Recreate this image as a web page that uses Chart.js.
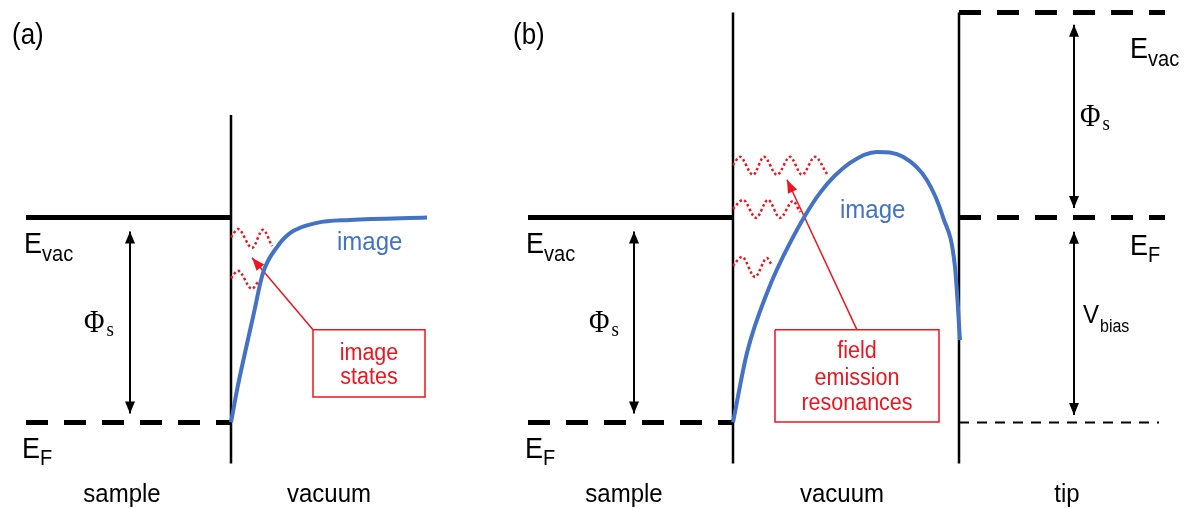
<!DOCTYPE html>
<html lang="en">
<head>
<meta charset="UTF-8">
<title>Image states and field emission resonances</title>
<script src="https://cdn.jsdelivr.net/npm/chart.js"></script>
<style>
  html, body { margin: 0; padding: 0; background: #fff; }
</style>
</head>
<body>
<canvas id="bandChart" width="1191" height="509"></canvas>

<script>
// x = position across the junction, y = energy relative to the sample Fermi level (Phi_s = 5)
const sampleEvac = 5, sampleEF = 0, tipEvac = 10, tipEF = 5, biasLevel = 0;

// walls between sample / vacuum / tip
const wallA   = [{x: 231, y: -1}, {x: 231, y: 7.5}];
const wallB   = [{x: 733, y: -1}, {x: 733, y: 10}];
const wallTip = [{x: 959, y: -1}, {x: 959, y: 10}];

// energy levels
const evacA   = [{x: 26, y: sampleEvac}, {x: 231, y: sampleEvac}];
const efA     = [{x: 26, y: sampleEF}, {x: 231, y: sampleEF}];
const evacB   = [{x: 528, y: sampleEvac}, {x: 733, y: sampleEvac}];
const efB     = [{x: 528, y: sampleEF}, {x: 733, y: sampleEF}];
const evacTip = [{x: 959, y: tipEvac}, {x: 1165, y: tipEvac}];
const efTip   = [{x: 959, y: tipEF}, {x: 1165, y: tipEF}];
const biasTip = [{x: 959, y: biasLevel}, {x: 1159, y: biasLevel}];

// image potential curves
const imageA = [
  {x: 231, y: 0}, {x: 238, y: 0.91}, {x: 245, y: 1.70}, {x: 253, y: 2.57},
  {x: 263, y: 3.65}, {x: 277, y: 4.28}, {x: 290, y: 4.62}, {x: 317, y: 4.87},
  {x: 350, y: 4.94}, {x: 427, y: 5.0}
];
const imageB = [
  {x: 733, y: 0}, {x: 747, y: 1.70}, {x: 767, y: 3.16}, {x: 790, y: 4.38},
  {x: 820, y: 5.60}, {x: 850, y: 6.33}, {x: 877, y: 6.60}, {x: 903, y: 6.48},
  {x: 927, y: 5.91}, {x: 943, y: 5.01}, {x: 955, y: 3.79}, {x: 960, y: 2.01}
];

// image states (a) and field emission resonances (b), wiggle turning points
const stateA1 = [{x: 231, y: 4.52}, {x: 238, y: 4.72}, {x: 252, y: 4.26}, {x: 263, y: 4.70}, {x: 272, y: 4.30}];
const stateA2 = [{x: 231, y: 3.52}, {x: 238, y: 3.70}, {x: 252, y: 3.26}, {x: 258, y: 3.43}];
const resB1 = [
  {x: 733, y: 6.28}, {x: 740, y: 6.48}, {x: 753, y: 6.04}, {x: 764, y: 6.48}, {x: 777, y: 6.04},
  {x: 790, y: 6.48}, {x: 802, y: 6.04}, {x: 815, y: 6.48}, {x: 827, y: 6.06}
];
const resB2 = [
  {x: 733, y: 5.21}, {x: 743, y: 5.43}, {x: 756, y: 4.99}, {x: 768, y: 5.43},
  {x: 780, y: 4.99}, {x: 793, y: 5.40}, {x: 800, y: 5.13}
];
const resB3 = [{x: 733, y: 3.82}, {x: 742, y: 4.04}, {x: 755, y: 3.55}, {x: 767, y: 4.01}, {x: 771, y: 3.87}];

// arrows
const phiArrowA   = [{x: 130, y: 0.22}, {x: 130, y: 4.66}];
const phiArrowB   = [{x: 634, y: 0.22}, {x: 634, y: 4.66}];
const phiArrowTip = [{x: 1074, y: 5.23}, {x: 1074, y: 9.70}];
const biasArrow   = [{x: 1074, y: 0.18}, {x: 1074, y: 4.65}];
const pointerA    = [{x: 313, y: 2.26}, {x: 252, y: 4.02}];
const pointerB    = [{x: 857, y: 2.26}, {x: 787, y: 5.92}];

// callout boxes
const boxA = [{x: 313, y: 2.26}, {x: 425, y: 2.26}, {x: 425, y: 0.62}, {x: 313, y: 0.62}, {x: 313, y: 2.26}];
const boxB = [{x: 775, y: 2.26}, {x: 939, y: 2.26}, {x: 939, y: 0.01}, {x: 775, y: 0.01}, {x: 775, y: 2.26}];

// text labels
const labelTexts = ['(a)', '(b)', 'E', 'E', 'E', 'E', 'E', 'E', 'Φ', 'Φ', 'Φ', 'V',
  'sample', 'vacuum', 'sample', 'vacuum', 'tip', 'image', 'image',
  'image', 'states', 'field', 'emission', 'resonances'];
const labelSubs = ['', '', 'vac', 'F', 'vac', 'F', 'vac', 'F', 's', 's', 's', 'bias',
  '', '', '', '', '', '', '', '', '', '', '', ''];
const labelX = [12, 513, 24, 22, 526, 525, 1130, 1130, 84, 589, 1080, 1083,
  122, 329, 624, 842, 1067, 337, 840, 369, 369, 857, 857, 857];
const labelY = [9.22, 9.22, 4.134, -0.866, 4.134, -0.866, 8.89, 4.085, 2.207, 2.207, 7.23, 2.427,
  -1.94, -1.94, -1.94, -1.94, -1.94, 4.207, 4.988, 1.524, 0.939, 1.573, 0.915, 0.305];

const BLACK = '#000000', BLUE = '#4472c4', RED = '#f0141e';
const SANS = '"Liberation Sans", Arial, sans-serif';
const SERIF = '"Liberation Serif", "Times New Roman", serif';

function labelStyle(i) {
  const t = labelTexts[i], s = labelSubs[i];
  if (t === '(a)' || t === '(b)') return {font: SANS, size: 26, color: BLACK, align: 'left'};
  if (t === 'Φ') return {font: SERIF, size: 28, color: BLACK, align: 'left', subSize: 19, subDrop: 4, subGap: 2};
  if (t === 'E') return {font: SANS, size: 27, color: BLACK, align: 'left', subSize: 20, subDrop: s === 'F' ? 7 : 8, subGap: 0};
  if (t === 'V') return {font: SANS, size: 24, color: BLACK, align: 'left', subSize: 16, subDrop: 9, subGap: 1};
  if (i === 17 || i === 18) return {font: SANS, size: 24, color: BLUE, align: 'left'};
  if (i >= 19) return {font: SANS, size: 21.5, color: RED, align: 'center'};
  return {font: SANS, size: 24, color: BLACK, align: 'center'};
}

const TEXT_STRETCH = 1.1;

const textPlugin = {
  id: 'bandText',
  afterDatasetsDraw(chart) {
    const ctx = chart.ctx, xs = chart.scales.x, ys = chart.scales.y;
    labelTexts.forEach((t, i) => {
      const st = labelStyle(i);
      const px = xs.getPixelForValue(labelX[i]), py = ys.getPixelForValue(labelY[i]);
      ctx.save();
      ctx.fillStyle = st.color;
      ctx.textBaseline = 'alphabetic';
      ctx.font = st.size + 'px ' + st.font;
      ctx.textAlign = st.align;
      ctx.translate(px, py);
      ctx.scale(1, TEXT_STRETCH);
      ctx.fillText(t, 0, 0);
      const w = ctx.measureText(t).width;
      if (labelSubs[i]) {
        ctx.font = st.subSize + 'px ' + st.font;
        ctx.textAlign = 'left';
        ctx.fillText(labelSubs[i], w + st.subGap, st.subDrop / TEXT_STRETCH);
      }
      ctx.restore();
    });
  }
};

// filled arrow heads on datasets flagged with heads: ['start', 'end']
const arrowPlugin = {
  id: 'arrowHeads',
  afterDatasetsDraw(chart) {
    const ctx = chart.ctx;
    chart.data.datasets.forEach((ds, i) => {
      if (!ds.heads) return;
      const pts = chart.getDatasetMeta(i).data;
      const ends = [];
      if (ds.heads.includes('start')) ends.push([pts[0], pts[1]]);
      if (ds.heads.includes('end')) ends.push([pts[pts.length - 1], pts[pts.length - 2]]);
      ends.forEach(([tip, from]) => {
        const ang = Math.atan2(tip.y - from.y, tip.x - from.x);
        const len = ds.headLength, half = ds.headWidth / 2;
        ctx.save();
        ctx.fillStyle = ds.borderColor;
        ctx.translate(tip.x, tip.y);
        ctx.rotate(ang);
        ctx.beginPath();
        ctx.moveTo(0, 0);
        ctx.lineTo(-len, half);
        ctx.lineTo(-len, -half);
        ctx.closePath();
        ctx.fill();
        ctx.restore();
      });
    });
  }
};

function line(data, color, width, extra) {
  return Object.assign({
    data: data, showLine: true, borderColor: color, borderWidth: width,
    pointRadius: 0, fill: false, tension: 0, clip: false
  }, extra || {});
}

const datasets = [
  line(imageA, BLUE, 4, {cubicInterpolationMode: 'monotone'}),
  line(imageB, BLUE, 4, {cubicInterpolationMode: 'monotone'}),
  line(stateA1, RED, 2.5, {cubicInterpolationMode: 'monotone', borderDash: [2.5, 2.5]}),
  line(stateA2, RED, 2.5, {cubicInterpolationMode: 'monotone', borderDash: [2.5, 2.5]}),
  line(resB1, RED, 2.5, {cubicInterpolationMode: 'monotone', borderDash: [2.5, 2.5]}),
  line(resB2, RED, 2.5, {cubicInterpolationMode: 'monotone', borderDash: [2.5, 2.5]}),
  line(resB3, RED, 2.5, {cubicInterpolationMode: 'monotone', borderDash: [2.5, 2.5]}),
  line(pointerA, RED, 1.5, {heads: ['end'], headLength: 13, headWidth: 10}),
  line(pointerB, RED, 1.5, {heads: ['end'], headLength: 13, headWidth: 10}),
  line(boxA, RED, 1.5),
  line(boxB, RED, 1.5),
  line(wallA, BLACK, 2.5),
  line(wallB, BLACK, 2.5),
  line(wallTip, BLACK, 2.5),
  line(evacA, BLACK, 5),
  line(evacB, BLACK, 5),
  line(efA, BLACK, 5, {borderDash: [22, 16]}),
  line(efB, BLACK, 5, {borderDash: [22, 16]}),
  line(evacTip, BLACK, 5, {borderDash: [22, 16]}),
  line(efTip, BLACK, 5, {borderDash: [22, 16]}),
  line(biasTip, BLACK, 2, {borderDash: [10, 8]}),
  line(phiArrowA, BLACK, 2, {heads: ['start', 'end'], headLength: 12, headWidth: 10}),
  line(phiArrowB, BLACK, 2, {heads: ['start', 'end'], headLength: 12, headWidth: 10}),
  line(phiArrowTip, BLACK, 2, {heads: ['start', 'end'], headLength: 12, headWidth: 10}),
  line(biasArrow, BLACK, 2, {heads: ['start', 'end'], headLength: 12, headWidth: 10})
];

const ctx = document.getElementById('bandChart').getContext('2d');
new Chart(ctx, {
  type: 'scatter',
  data: { datasets: datasets },
  options: {
    responsive: false,
    animation: false,
    layout: { padding: 0 },
    plugins: { legend: { display: false }, tooltip: { enabled: false } },
    scales: {
      x: { type: 'linear', display: false, min: 0, max: 1191 },
      y: { type: 'linear', display: false, min: -2.11, max: 10.305 }
    }
  },
  plugins: [arrowPlugin, textPlugin]
});
</script>
</body>
</html>
